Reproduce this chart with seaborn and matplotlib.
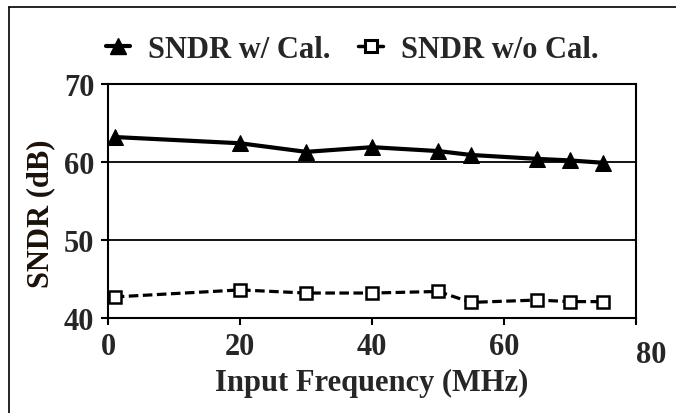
import numpy as np
import pandas as pd
import seaborn as sns
import matplotlib
matplotlib.use("Agg")
from matplotlib import pyplot as plt
from matplotlib import transforms
from matplotlib.lines import Line2D

# data
freq_mhz = [1, 20, 30, 40, 50, 55, 65, 70, 75]
sndr_cal = [63.2, 62.4, 61.3, 61.9, 61.4, 60.9, 60.4, 60.2, 59.9]
sndr_nocal = [42.7, 43.6, 43.2, 43.2, 43.4, 42.0, 42.3, 42.1, 42.1]
x_ticks = [0, 20, 40, 60, 80]
y_ticks = [40, 50, 60, 70]
label_cal = "SNDR w/ Cal."
label_nocal = "SNDR w/o Cal."

df = pd.DataFrame({"freq": freq_mhz, "cal": sndr_cal, "nocal": sndr_nocal})

sns.set_style("white")
plt.rcParams["font.family"] = ["Liberation Serif", "DejaVu Serif"]
plt.rcParams["font.weight"] = "bold"

fig = plt.figure(figsize=(6.76, 4.14), dpi=100)
ax = fig.add_axes([0.160, 0.2295, 0.781, 0.5652])

sns.lineplot(data=df, x="freq", y="cal", ax=ax, color="black", lw=3,
             marker="^", markersize=12, markeredgecolor="black",
             label=label_cal, legend=False)
sns.lineplot(data=df, x="freq", y="nocal", ax=ax, color="black", lw=2.3,
             linestyle=(0, (3, 1.4)), marker="s", markersize=8,
             markerfacecolor="white", markeredgecolor="black",
             markeredgewidth=1.8, label=label_nocal, legend=False)

ax.set_xlim(0, 80)
ax.set_ylim(40, 70)
ax.set_xticks(x_ticks)
ax.set_yticks(y_ticks)
for y in (50, 60):
    ax.axhline(y, color="black", lw=1.3, zorder=0)

for s in ax.spines.values():
    s.set_color("black")
    s.set_linewidth(1.5)

ax.tick_params(axis="both", direction="out", length=5, width=1.5,
               color="black", labelsize=22, pad=5)
ax.tick_params(axis="x", bottom=True)
ax.tick_params(axis="y", left=True)
for lab in ax.get_xticklabels() + ax.get_yticklabels():
    lab.set_fontweight("bold")

# the 80 label sits lower and to the right in the original
lab80 = ax.get_xticklabels()[-1]
lab80.set_transform(lab80.get_transform() +
                    transforms.ScaledTranslation(15 / 100, -8 / 100, fig.dpi_scale_trans))

ax.set_xlabel("Input Frequency (MHz)", fontsize=22, fontweight="bold")
ax.xaxis.set_label_coords(0.5, -0.215)
ax.set_ylabel("SNDR (dB)", fontsize=22, fontweight="bold", color="#1a1208")
ax.yaxis.set_label_coords(-0.100, 0.45)

handles = [
    Line2D([], [], color="black", lw=3, marker="^", markersize=12),
    Line2D([], [], color="black", lw=2.5, marker="s", markersize=9,
           markerfacecolor="white", markeredgewidth=2.2),
]
fig.legend(handles, [label_cal, label_nocal], loc="center",
           bbox_to_anchor=(0.521, 0.879), ncol=2, frameon=False,
           handlelength=0.8, handletextpad=0.6, columnspacing=0.9,
           prop={"size": 22, "weight": "bold"})

# outer frame of the original figure (left and top edges)
fig.add_artist(Line2D([9 / 676, 9 / 676], [0, 1 - 8 / 414], color="black", lw=1.2,
                      transform=fig.transFigure))
fig.add_artist(Line2D([9 / 676, 1], [1 - 8 / 414, 1 - 8 / 414], color="black", lw=1.2,
                      transform=fig.transFigure))

fig.savefig("out.png", dpi=100)
